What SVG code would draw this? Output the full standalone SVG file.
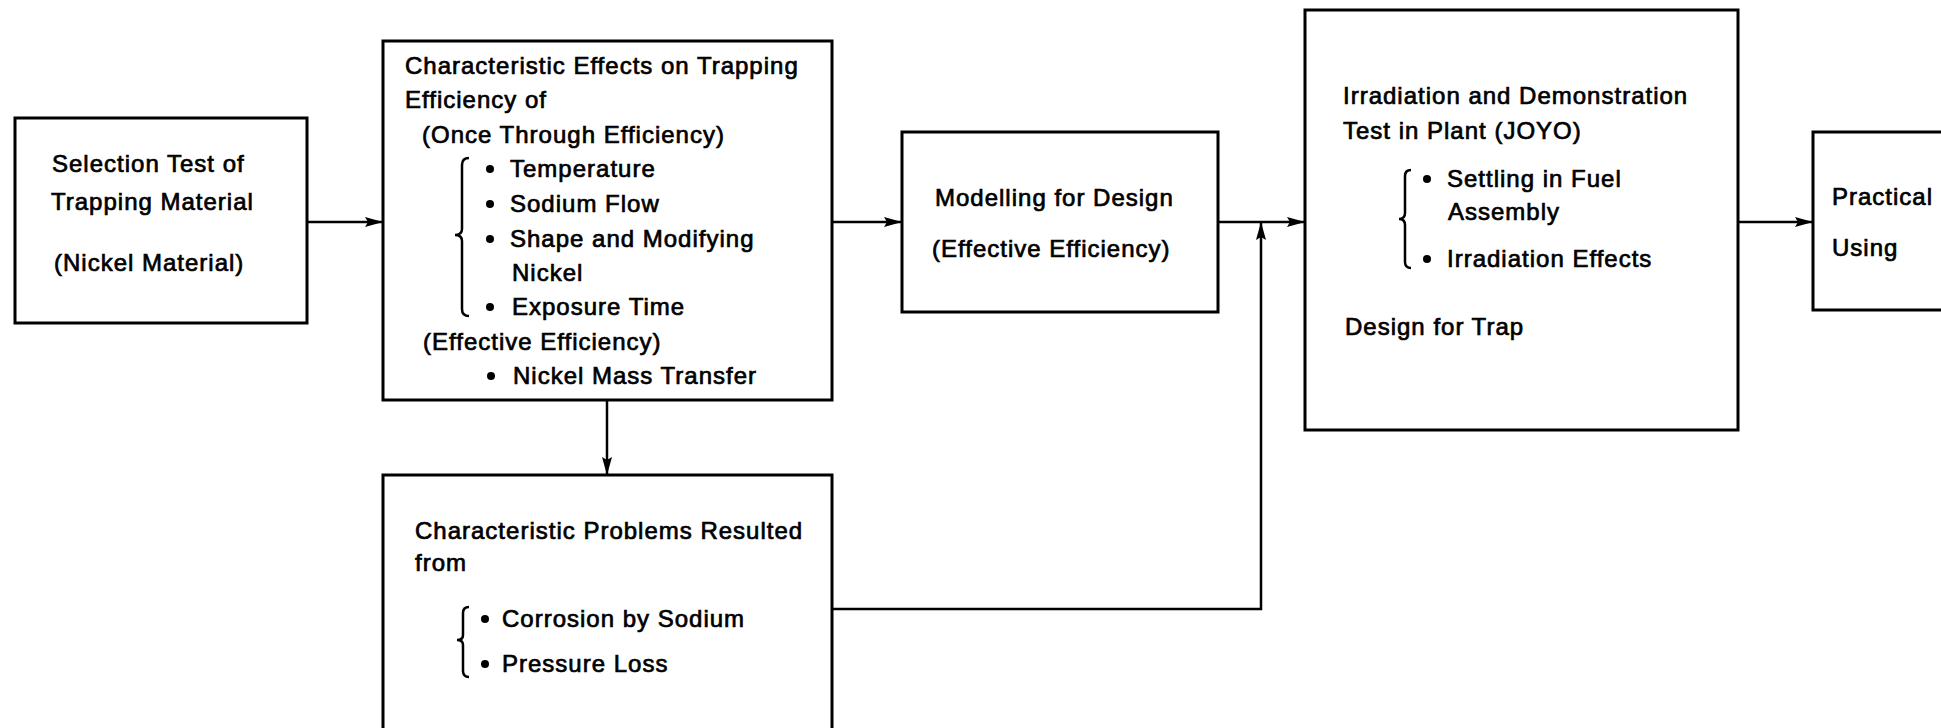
<svg xmlns="http://www.w3.org/2000/svg" width="1941" height="728" viewBox="0 0 1941 728">
  <style>
    .box { fill: #ffffff; stroke: #000000; stroke-width: 3; }
    .lbl { font-family: "Liberation Sans", Arial, sans-serif; font-size: 24px; letter-spacing: 1px; fill: #000000; stroke: #000000; stroke-width: 0.7px; }
    .wire { fill: none; stroke: #000000; stroke-width: 2.5; }
    .brace { fill: none; stroke: #000000; stroke-width: 2.5; }
    .dot { fill: #000000; }
  </style>
  <defs>
    <marker id="arrow" viewBox="0 0 18 10" refX="18" refY="5" markerWidth="18" markerHeight="10" markerUnits="userSpaceOnUse" orient="auto">
      <path d="M0,0 L18,5 L0,10 L3,5 Z" fill="#000000"/>
    </marker>
  </defs>
  <rect width="1941" height="728" fill="#ffffff"/>

  <!-- connectors -->
  <g id="connectors">
    <path class="wire" d="M307,222 H383" marker-end="url(#arrow)"/>
    <path class="wire" d="M832,222 H902" marker-end="url(#arrow)"/>
    <path class="wire" d="M1218,222 H1305" marker-end="url(#arrow)"/>
    <path class="wire" d="M1738,222 H1813" marker-end="url(#arrow)"/>
    <path class="wire" d="M607,400 V475" marker-end="url(#arrow)"/>
    <path class="wire" d="M832,609 H1261 V222" marker-end="url(#arrow)"/>
  </g>

  <!-- selection test -->
  <g id="selection-test">
    <rect class="box" x="15" y="118" width="292" height="205"/>
    <text class="lbl" x="52" y="172">Selection Test of</text>
    <text class="lbl" x="51" y="210">Trapping Material</text>
    <text class="lbl" x="54" y="271">(Nickel Material)</text>
  </g>

  <!-- trapping efficiency effects -->
  <g id="trapping-effects">
    <rect class="box" x="383" y="41" width="449" height="359"/>
    <text class="lbl" x="405" y="74">Characteristic Effects on Trapping</text>
    <text class="lbl" x="405" y="108">Efficiency of</text>
    <text class="lbl" x="422" y="143">(Once Through Efficiency)</text>
    <path class="brace" d="M469,158 Q462,158 462,165 L462,229 Q462,235 455,235 Q462,235 462,241 L462,309 Q462,316 469,316"/>
    <circle class="dot" cx="490" cy="169" r="4"/>
    <text class="lbl" x="510" y="177">Temperature</text>
    <circle class="dot" cx="490" cy="204" r="4"/>
    <text class="lbl" x="510" y="212">Sodium Flow</text>
    <circle class="dot" cx="490" cy="239" r="4"/>
    <text class="lbl" x="510" y="247">Shape and Modifying</text>
    <text class="lbl" x="512" y="281">Nickel</text>
    <circle class="dot" cx="490" cy="307" r="4"/>
    <text class="lbl" x="512" y="315">Exposure Time</text>
    <text class="lbl" x="423" y="350">(Effective Efficiency)</text>
    <circle class="dot" cx="491" cy="376" r="4"/>
    <text class="lbl" x="513" y="384">Nickel Mass Transfer</text>
  </g>

  <!-- resulting problems -->
  <g id="problems">
    <rect class="box" x="383" y="475" width="449" height="270"/>
    <text class="lbl" x="415" y="539">Characteristic Problems Resulted</text>
    <text class="lbl" x="415" y="571">from</text>
    <path class="brace" d="M469,607 Q463,607 463,613 L463,635 Q463,640 457,640 Q463,640 463,645 L463,671 Q463,677 469,677"/>
    <circle class="dot" cx="485" cy="619" r="4"/>
    <text class="lbl" x="502" y="627">Corrosion by Sodium</text>
    <circle class="dot" cx="485" cy="664" r="4"/>
    <text class="lbl" x="502" y="672">Pressure Loss</text>
  </g>

  <!-- modelling -->
  <g id="modelling">
    <rect class="box" x="902" y="132" width="316" height="180"/>
    <text class="lbl" x="935" y="206">Modelling for Design</text>
    <text class="lbl" x="932" y="257">(Effective Efficiency)</text>
  </g>

  <!-- irradiation and demonstration -->
  <g id="irradiation">
    <rect class="box" x="1305" y="10" width="433" height="420"/>
    <text class="lbl" x="1343" y="104">Irradiation and Demonstration</text>
    <text class="lbl" x="1343" y="139">Test in Plant (JOYO)</text>
    <path class="brace" d="M1411,170 Q1405,170 1405,176 L1405,213 Q1405,219 1399,219 Q1405,219 1405,225 L1405,262 Q1405,268 1411,268"/>
    <circle class="dot" cx="1427" cy="179" r="4"/>
    <text class="lbl" x="1447" y="187">Settling in Fuel</text>
    <text class="lbl" x="1448" y="220">Assembly</text>
    <circle class="dot" cx="1427" cy="259" r="4"/>
    <text class="lbl" x="1447" y="267">Irradiation Effects</text>
    <text class="lbl" x="1345" y="335">Design for Trap</text>
  </g>

  <!-- practical use -->
  <g id="practical">
    <rect class="box" x="1813" y="132" width="150" height="178"/>
    <text class="lbl" x="1832" y="205">Practical</text>
    <text class="lbl" x="1832" y="256">Using</text>
  </g>
</svg>
